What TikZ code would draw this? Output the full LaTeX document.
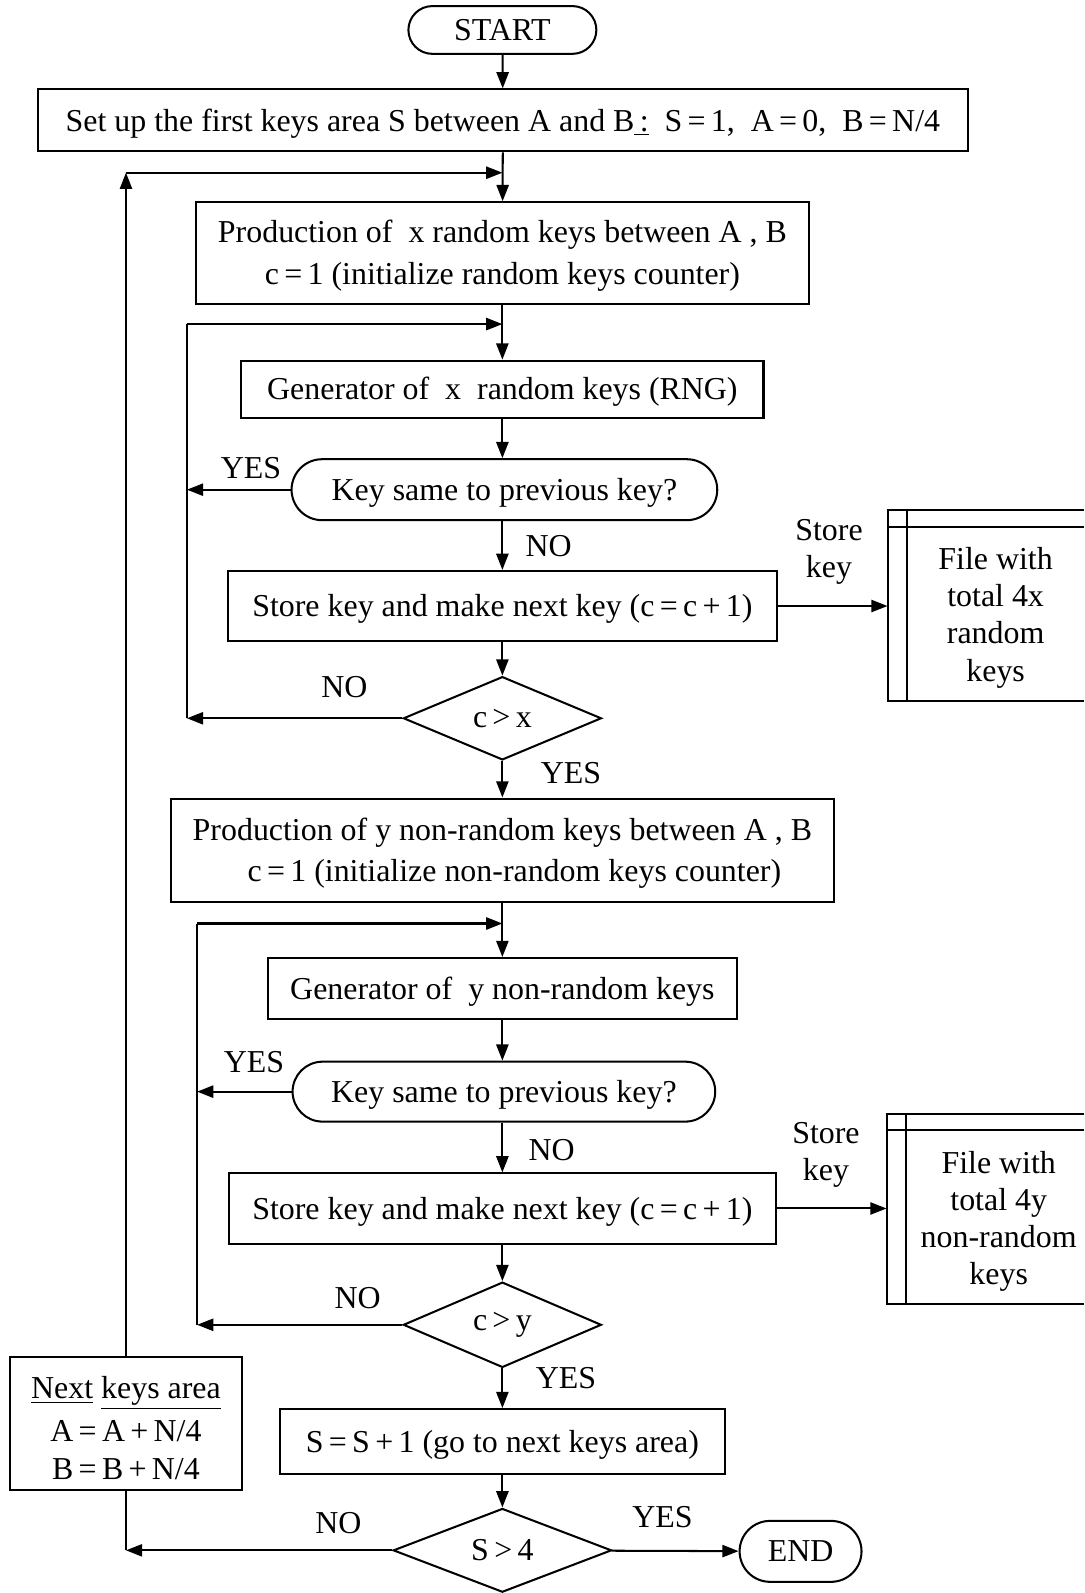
\documentclass[tikz,border=0pt]{standalone}
\usepackage{fontspec}
\setmainfont{Liberation Serif}
\usetikzlibrary{arrows.meta,shapes.geometric,shapes.misc}
\newcommand{\myl}[1]{\raisebox{0pt}[0.92em][0.25em]{#1}}
\newcommand{\mylt}[1]{\raisebox{0pt}[1.2em][0.25em]{#1}}
\begin{document}
\begin{tikzpicture}[x=0.5pt,y=-0.5pt,
  every node/.style={font=\fontsize{15.7}{20.5}\selectfont},
  lw/.style={line width=1pt},
  box/.style={draw, lw, inner sep=0pt, align=center},
  term/.style={draw, lw, rounded rectangle, inner sep=0pt},
  dec/.style={draw, lw, diamond, inner sep=0pt},
  arr/.style={lw, -{Triangle[length=8pt,width=6pt]}},
  lbl/.style={inner sep=0pt},
  ftext/.style={align=center, inner sep=0pt, font=\fontsize{15.7}{18.3}\selectfont}]
\useasboundingbox (0,0) rectangle (1067,1568);

% nodes
\node[term, minimum width=92.5pt, minimum height=23.5pt] (start) at (494.5,29.5) {START};
\node[box, minimum width=458pt, minimum height=30.5pt] (setup) at (495,118.5)
  {\myl{Set up the first keys area S between A and B\underline{\,:}\ \ S\,=\,1,\ \ A\,=\,0,\ \ B\,=\,N/4}};
\node[box, minimum width=301.5pt, minimum height=50pt] (prodx) at (494.5,249)
  {\myl{Production of\ \ x random keys between A , B}\\\myl{c\,=\,1 (initialize random keys counter)}};
\node[box, minimum width=257pt, minimum height=28pt] (genx) at (494.5,383)
  {\myl{Generator of\ \ x\ \ random keys (RNG)}};
\node[term, minimum width=209.5pt, minimum height=30pt] (samex) at (496.5,482)
  {\myl{Key same to previous key?}};
\node[box, minimum width=270pt, minimum height=34.5pt] (storex) at (494.5,596.5)
  {\myl{Store key and make next key (c\,=\,c\,+\,1)}};
\node[dec, minimum width=97.5pt, minimum height=41pt] (cx) at (494.5,707) {c\,>\,x};
\node[box, minimum width=326.5pt, minimum height=51pt] (prody) at (494.5,837)
  {\myl{Production of y non-random keys between A , B}\\\myl{\ \ \ c\,=\,1 (initialize non-random keys counter)}};
\node[box, minimum width=230.5pt, minimum height=30pt] (geny) at (494.5,973)
  {\myl{Generator of\ \ y non-random keys}};
\node[term, minimum width=208pt, minimum height=29.5pt] (samey) at (496,1074.5)
  {\myl{Key same to previous key?}};
\node[box, minimum width=269.5pt, minimum height=34.5pt] (storey) at (494.5,1189.5)
  {\myl{Store key and make next key (c\,=\,c\,+\,1)}};
\node[dec, minimum width=97.5pt, minimum height=42pt] (cy) at (494.5,1304) {c\,>\,y};
\node[box, minimum width=219pt, minimum height=32pt] (sinc) at (494.5,1419)
  {\myl{S\,=\,S\,+\,1 (go to next keys area)}};
\node[dec, minimum width=107.5pt, minimum height=40pt] (cs) at (494.5,1526) {S\,>\,4};
\node[term, minimum width=60pt, minimum height=30pt] (end) at (788,1527) {END};
\node[box, minimum width=114pt, minimum height=65.5pt, font=\fontsize{15.7}{18.5}\selectfont] (next) at (124,1401.5)
  {\mylt{\underline{Next} \underline{keys area}}\\[2.5pt]\myl{A\,=\,A\,+\,N/4}\\\myl{B\,=\,B\,+\,N/4}};

% file boxes
\node[minimum width=96.5pt, minimum height=94pt, inner sep=0pt] (filea) at (970.5,596) {};
\draw[lw] (filea.north east) -- (filea.north west) -- (filea.south west) -- (filea.south east);
\draw[lw] ([xshift=9.5pt]filea.north west) -- ([xshift=9.5pt]filea.south west);
\draw[lw] ([yshift=-8.5pt]filea.north west) -- ([yshift=-8.5pt]filea.north east);
\node[ftext] (fatext) at (980,608) {File with\\total 4x\\random\\keys};

\node[minimum width=97pt, minimum height=93pt, inner sep=0pt] (fileb) at (970,1190) {};
\draw[lw] (fileb.north east) -- (fileb.north west) -- (fileb.south west) -- (fileb.south east);
\draw[lw] ([xshift=9.5pt]fileb.north west) -- ([xshift=9.5pt]fileb.south west);
\draw[lw] ([yshift=-8pt]fileb.north west) -- ([yshift=-8pt]fileb.north east);
\node[ftext] (fbtext) at (983,1202) {File with\\total 4y\\non-random\\keys};

% coordinates
\coordinate (j1) at (494.5,170);
\coordinate (j2) at (494.5,319);
\coordinate (j3) at (494.5,909);
\coordinate (l1t) at (124,170);
\coordinate (l1b) at (124,1526);
\coordinate (l2t) at (184,319);
\coordinate (l2b) at (184,707);
\coordinate (l3t) at (194,909);
\coordinate (l3b) at (194,1304);

% main flow
\draw[arr] (start) -- (setup);
\draw[arr] (setup) -- (prodx);
\draw[arr] (prodx) -- (genx);
\draw[arr] (genx.south) -- (genx.south |- samex.north);
\draw[arr] (samex.south -| storex.north) -- (storex.north);
\draw[arr] (storex) -- (cx);
\draw[arr] (cx) -- (prody);
\draw[arr] (prody) -- (geny);
\draw[arr] (geny.south) -- (geny.south |- samey.north);
\draw[arr] (samey.south -| storey.north) -- (storey.north);
\draw[arr] (storey) -- (cy);
\draw[arr] (cy) -- (sinc);
\draw[arr] (sinc) -- (cs);
\draw[arr] (cs) -- (end);

% loops
\draw[arr] (cs.west) -- (l1b);
\draw[lw] (l1b) -- (next.south);
\draw[arr] (next.north) -- (l1t);
\draw[arr] (l1t) -- (j1);

\draw[arr] (cx.west) -- (l2b);
\draw[lw] (l2b) -- (l2t);
\draw[arr] (l2t) -- (j2);
\draw[arr] (samex.west) -- (samex.west -| l2t);

\draw[arr] (cy.west) -- (l3b);
\draw[lw] (l3b) -- (l3t);
\draw[arr] (l3t) -- (j3);
\draw[arr] (samey.west) -- (samey.west -| l3t);

% store arrows
\draw[arr] (storex.east) -- (storex.east -| filea.west);
\draw[arr] (storey.east) -- (storey.east -| fileb.west);

% labels
\node[lbl] (y1) at (247,461) {YES};
\node[lbl] (n1) at (540,538) {NO};
\node[lbl] (n2) at (339,676) {NO};
\node[lbl] (y2) at (562,761) {YES};
\node[lbl] (y3) at (250,1045) {YES};
\node[lbl] (n3) at (543,1132) {NO};
\node[lbl] (n4) at (352,1278) {NO};
\node[lbl] (y4) at (557,1356) {YES};
\node[lbl] (n5) at (333,1499) {NO};
\node[lbl] (y5) at (652,1493) {YES};
\node[ftext] (sk1) at (816,543) {Store\\key};
\node[ftext] (sk2) at (813,1137) {Store\\key};
\end{tikzpicture}
\end{document}
